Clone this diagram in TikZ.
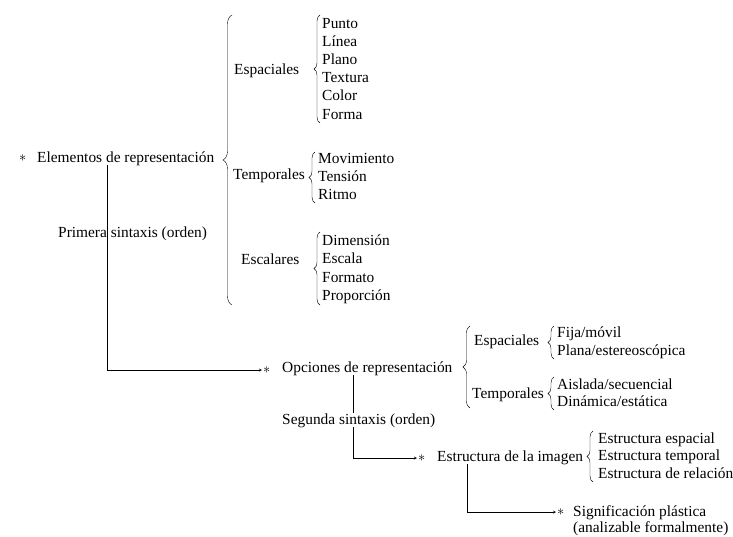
\documentclass[tikz,border=0pt]{standalone}
\usepackage{fontspec}
\setmainfont{Liberation Serif}
\usetikzlibrary{decorations.pathreplacing}
\begin{document}
\begin{tikzpicture}[x=1pt,y=-1pt,>=stealth,font=\fontsize{15.4}{18}\selectfont,
  txt/.style={anchor=west,inner sep=0pt,text height=11pt,text depth=3pt},
  star/.style={anchor=west,inner sep=1pt},
  brc/.style={decorate,decoration={brace,amplitude=#1}},
  brc/.default=7pt]
\useasboundingbox (0,0) rectangle (733,536);
% primera sintaxis
\node[star](s1) at (18,158){$\ast$};
\node[txt](elem) at (37,158){Elementos de representaci\'on};
\draw[brc=9pt](232,305)--(232,15);
\node[txt](esp) at (234,70){Espaciales};
\node[txt](tem) at (233,175){Temporales};
\node[txt](esc) at (241,260){Escalares};
\draw[brc=6pt](320,123)--(320,15);
\foreach \t [count=\i] in {Punto,L\'inea,Plano,Textura,Color,Forma}
  \node[txt](esp\i) at (322,{24+18.2*(\i-1)}){\t};
\draw[brc=6pt](315,203)--(315,152);
\foreach \t [count=\i] in {Movimiento,Tensi\'on,Ritmo}
  \node[txt](tem\i) at (318,{159+18.4*(\i-1)}){\t};
\draw[brc=6pt](320,305)--(320,232);
\foreach \t [count=\i] in {Dimensi\'on,Escala,Formato,Proporci\'on}
  \node[txt](esc\i) at (322,{241+18.6*(\i-1)}){\t};
\node[txt](prim) at (58,233){Primera sintaxis (orden)};
\coordinate(c1) at (107,370);
% segunda sintaxis
\node[star](s2) at (262,370){$\ast$};
\node[txt](opc) at (282,368){Opciones de representaci\'on};
\draw[->](elem.south-|c1)--(c1)--(s2.west);
\draw[brc=7pt](470,408)--(470,326);
\node[txt](esp2) at (474,341){Espaciales};
\node[txt](tem2) at (472,394){Temporales};
\draw[brc=6pt](554,359)--(554,326);
\node[txt](fija) at (557,333){Fija/m\'ovil};
\node[txt](plana) at (557,351){Plana/estereosc\'opica};
\draw[brc=6pt](554,410)--(554,377);
\node[txt](aisl) at (557,385){Aislada/secuencial};
\node[txt](dina) at (557,402){Din\'amica/est\'atica};
\node[txt](seg) at (282,420){Segunda sintaxis (orden)};
\draw(opc.south-|353,0)--(seg.north-|353,0);
\coordinate(c2) at (353,458);
\node[star](s3) at (417,458){$\ast$};
\node[txt](img) at (437,457){Estructura de la imagen};
\draw[->](seg.south-|c2)--(c2)--(s3.west);
\draw[brc=6pt](593,482)--(593,431);
\foreach \t [count=\i] in {Estructura espacial,Estructura temporal,Estructura de relaci\'on}
  \node[txt](ei\i) at (598,{439+17.8*(\i-1)}){\t};
\coordinate(c3) at (467,512);
\node[star](s4) at (556,512){$\ast$};
\node[txt](sig) at (573,512){Significaci\'on pl\'astica};
\node[txt](anal) at (573,528){(analizable formalmente)};
\draw[->](img.south-|c3)--(c3)--(s4.west);
\end{tikzpicture}
\end{document}
